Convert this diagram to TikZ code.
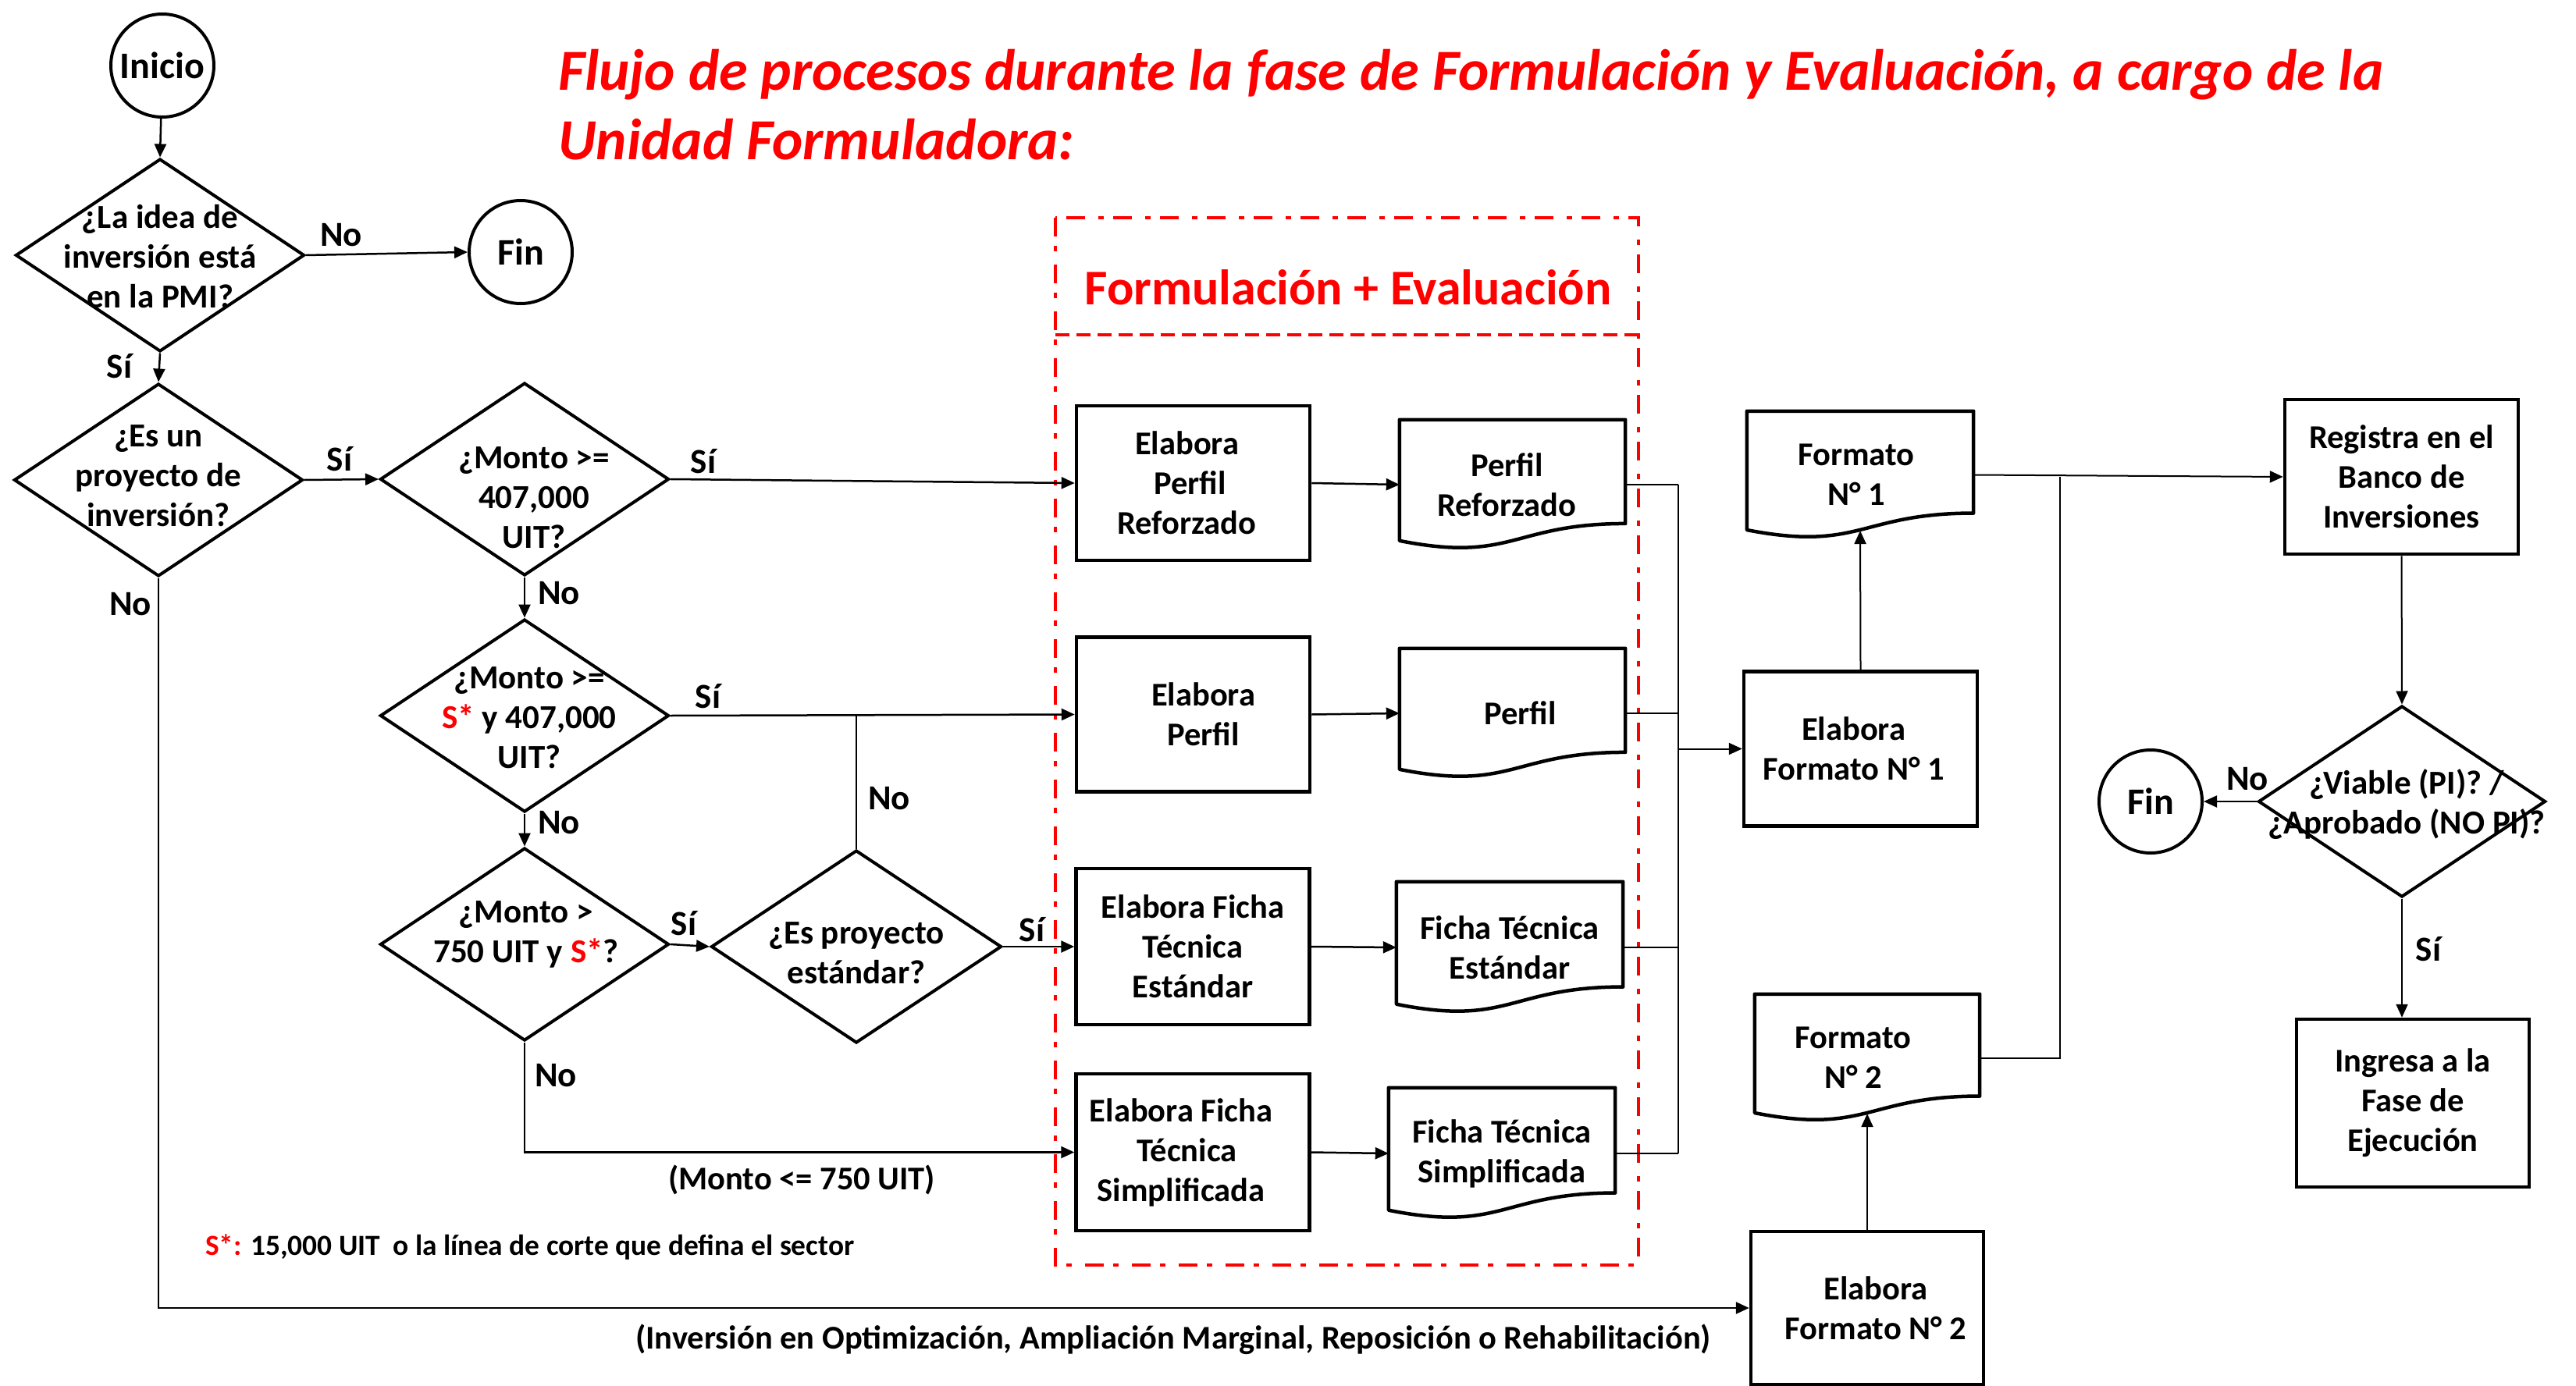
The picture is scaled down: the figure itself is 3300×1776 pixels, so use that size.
\documentclass[tikz,border=0pt]{standalone}
\usepackage{fontspec}
\setmainfont{Carlito}
\usetikzlibrary{shapes.geometric,arrows.meta,calc}
\definecolor{rojo}{RGB}{255,0,0}
\newcommand{\docshape}[2]{%
  \draw[docline] (#1.north west) -- (#1.north east) -- ($(#1.north east)+(0,0.802*#2)$)
    .. controls ($(#1.north)+(0,0.802*#2)$) and ($(#1.north)+(0,1.1075*#2)$) ..
    ($(#1.north west)+(0,0.934*#2)$) -- cycle;}
\newcommand{\shiftx}[2]{\hspace*{#1}#2\hspace*{-#1}}
\begin{document}
\begin{tikzpicture}[x=1pt,y=-1pt,
  every node/.style={font=\bfseries\fontsize{42.5}{51}\selectfont,inner sep=0pt,align=center},
  box/.style={draw,line width=4.5pt,minimum width=299pt,minimum height=198pt},
  docnode/.style={minimum width=290pt,minimum height=166pt},
  dia/.style={draw,diamond,line width=4pt,minimum width=370pt,minimum height=247pt},
  dtext/.style={font=\bfseries\fontsize{43}{51}\selectfont},
  term/.style={draw,circle,line width=4pt,minimum size=132pt,font=\bfseries\fontsize{48}{50}\selectfont},
  conn/.style={line width=2.5pt},
  arr/.style={line width=2.5pt,-{Triangle[length=17pt,width=15pt]}},
  thin/.style={line width=2pt},
  thinarr/.style={line width=2pt,-{Triangle[length=17pt,width=15pt]}},
  docline/.style={line width=4.5pt,line join=round},
  frame/.style={draw=rojo,line width=4.5pt,dash pattern=on 24pt off 12pt on 7pt off 17pt},
  sep/.style={draw=rojo,line width=4.5pt,dash pattern=on 18pt off 9pt},
  titlestyle/.style={text=rojo,font=\bfseries\itshape\fontsize{74.5}{89}\selectfont,anchor=base west},
  lab/.style={font=\bfseries\fontsize{45}{50}\selectfont},
  note/.style={font=\bfseries\fontsize{37.4}{44}\selectfont},
]
\fill[white] (0,0) rectangle (3300,1776);
\useasboundingbox (0,0) rectangle (3300,1776);

% title
\node[titlestyle] (title1) at (715,116) {Flujo de procesos durante la fase de Formulación y Evaluación, a cargo de la};
\node[titlestyle] (title2) at (715,205) {Unidad Formuladora:};

% red frame
\draw[frame] (1352,279) rectangle (2099,1621);
\draw[sep] (1352,429) -- (2099,429);
\node[text=rojo,font=\bfseries\fontsize{64}{70}\selectfont] (ftitle) at (1727,368) {Formulación + Evaluación};

% terminals
\node[term] (ini) at (208,84) {Inicio};
\node[term] (fin1) at (667,323) {Fin};
\node[term] (fin2) at (2755,1027) {Fin};

% diamonds
\node[dia] (d1) at (205,327) {};
\node[dtext] (d1t) at (205,329) {¿La idea de\\inversión está\\en la PMI?};
\node[dia] (d2) at (203,615) {};
\node[dtext] (d2t) at (203,610) {¿Es un\\proyecto de\\inversión?};
\node[dia] (d3) at (672,614) {};
\node[dtext] (d3t) at (684,638) {¿Monto >=\\407,000\\UIT?};
\node[dia] (d4) at (672,917) {};
\node[dtext] (d4t) at (678,920) {¿Monto >=\\\textcolor{rojo}{S*} y 407,000\\UIT?};
\node[dia] (d5) at (672,1210) {};
\node[dtext] (d5t) at (674,1197) {¿Monto >\\750 UIT y \textcolor{rojo}{S*}?};
\node[dia,minimum width=372pt] (d6) at (1097,1213) {};
\node[dtext] (d6t) at (1097,1221) {¿Es proyecto\\estándar?};
\node[dia,minimum width=368pt,minimum height=245pt] (viab) at (3077,1027) {};
\node[dtext] (viabt) at (3083,1031) {¿Viable (PI)? /\\¿Aprobado (NO PI)?};

% process boxes
\node[box] (epr) at (1528.5,619) {\shiftx{-8pt}{Elabora}\\\shiftx{-8pt}{Perfil}\\\shiftx{-8pt}{Reforzado}};
\node[box] (ep) at (1528.5,915.5) {\shiftx{13pt}{Elabora}\\\shiftx{13pt}{Perfil}};
\node[box,minimum height=200pt] (efte) at (1528,1213) {Elabora Ficha\\Técnica\\Estándar};
\node[box,minimum height=201pt] (efts) at (1528,1476.5) {\shiftx{-15pt}{Elabora Ficha}\\\shiftx{-15pt}{Técnica}\\\shiftx{-15pt}{Simplificada}};
\node[box] (ef1) at (2383.5,959.5) {\shiftx{-9pt}{Elabora}\\\shiftx{-9pt}{Formato N° 1}};
\node[box,minimum width=298pt,minimum height=196pt] (ef2) at (2392,1676) {\shiftx{11pt}{Elabora}\\\shiftx{11pt}{Formato N° 2}};
\node[box] (reg) at (3076.5,611) {Registra en el\\Banco de\\Inversiones};
\node[box,minimum width=298pt,minimum height=215pt] (ing) at (3091,1413.5) {Ingresa a la\\Fase de\\Ejecución};

% documents
\node[docnode,minimum width=289pt] (pr) at (1937.5,621) {\shiftx{-7pt}{Perfil}\\\shiftx{-7pt}{Reforzado}};
\docshape{pr}{166}
\node[docnode,minimum width=289pt] (pf) at (1937.5,914) {\hspace*{20pt}Perfil};
\docshape{pf}{166}
\node[docnode,minimum height=168pt] (fte) at (1934,1214) {Ficha Técnica\\Estándar};
\docshape{fte}{168}
\node[docnode,minimum height=168pt] (fts) at (1924,1478) {Ficha Técnica\\Simplificada};
\docshape{fts}{168}
\node[docnode,minimum height=163pt] (f1) at (2383,608.5) {\shiftx{-5pt}{Formato}\\\shiftx{-5pt}{N° 1}};
\docshape{f1}{163}
\node[docnode,minimum width=288pt,minimum height=163pt] (f2) at (2392,1355.5) {\shiftx{-18pt}{Formato}\\\shiftx{-18pt}{N° 2}};
\docshape{f2}{163}
\coordinate (f1b) at ($(f1.north)+(0,0.94*163)$);
\coordinate (f2b) at ($(f2.north)+(0,0.94*163)$);

% connectors left part
\draw[arr] (ini) -- (d1.north);
\draw[arr] (d1.east) -- (fin1.west);
\draw[arr] (d1.south) -- (d2.north);
\draw[arr] (d2.east) -- (d3.west);
\draw[arr] (d3.east) -- (epr.west);
\draw[arr] (d3.south) -- (d4.north);
\draw[arr] (d4.east) -- (ep.west);
\draw[conn] (d6.north) -- (d6.north |- d4.east);
\draw[arr] (d4.south) -- (d5.north);
\draw[arr] (d5.east) -- (d6.west);
\draw[arr] (d6.east) -- (efte.west);
\draw[arr] (d5.south) |- (efts.west);
\draw[arr] (d2.south) |- (ef2.west);

% boxes to documents
\draw[arr] (epr.east) -- (pr.west);
\draw[arr] (ep.east) -- (pf.west);
\draw[arr] (efte.east) -- (fte.west);
\draw[arr] (efts.east) -- (fts.west);

% bus
\coordinate (busT) at (2150,621);
\coordinate (busB) at (2150,1478);
\draw[thin] (pr.east) -- (busT);
\draw[thin] (pf.east) -- (pf.east -| busT);
\draw[thin] (fte.east) -- (fte.east -| busT);
\draw[thin] (fts.east) -- (busB);
\draw[thin] (busT) -- (busB);
\draw[thinarr] (ef1.west -| busT) -- (ef1.west);

% right part
\draw[thinarr] (ef1.north) -- (f1b);
\draw[thinarr] (ef2.north) -- (f2b);
\coordinate (jn) at (2639,611);
\draw[thinarr] (f1.east) -- (reg.west);
\draw[thin] (f2.east) -| (jn);
\draw[thinarr] (reg.south) -- (viab.north);
\draw[thinarr] (viab.west) -- (fin2.east);
\draw[thinarr] (viab.south) -- (viab.south |- ing.north);

% labels
\node[lab] (l1) at (437,301) {No};
\node[lab] (l2) at (153,469) {Sí};
\node[lab] (l3) at (435,588) {Sí};
\node[lab] (l4) at (167,774) {No};
\node[lab] (l5) at (901,591) {Sí};
\node[lab] (l6) at (716,760) {No};
\node[lab] (l7) at (907,892) {Sí};
\node[lab] (l8) at (716,1054) {No};
\node[lab] (l9) at (1139,1023) {No};
\node[lab] (l10) at (876,1183) {Sí};
\node[lab] (l11) at (1322,1191) {Sí};
\node[lab] (l12) at (712,1378) {No};
\node[lab] (l13) at (2879,998) {No};
\node[lab] (l14) at (3111,1216) {Sí};
\node (m1) at (1027,1512) {(Monto <= 750 UIT)};
\node[note,anchor=west] (snote) at (263,1598) {\textcolor{rojo}{S*:} 15,000 UIT\ \ o la línea de corte que defina el sector};
\node (inv) at (1503,1716) {(Inversión en Optimización, Ampliación Marginal, Reposición o Rehabilitación)};
\end{tikzpicture}
\end{document}
